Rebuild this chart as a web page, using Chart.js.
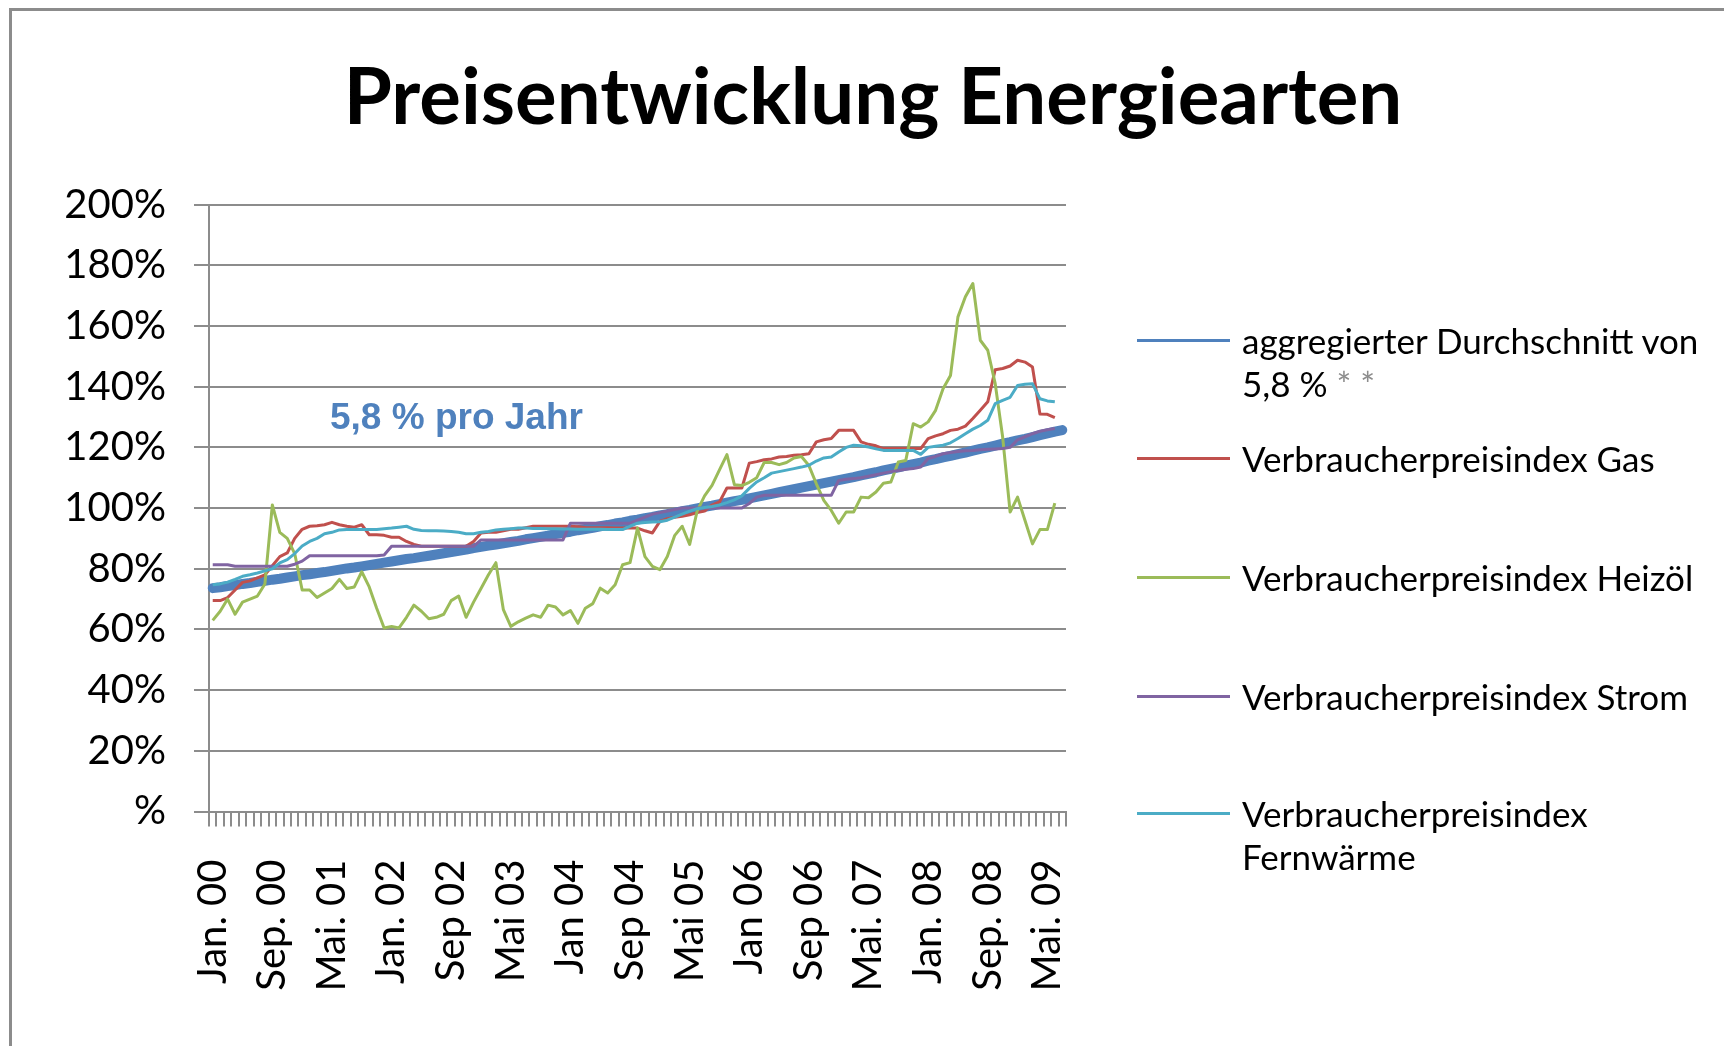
<!DOCTYPE html>
<html>
<head>
<meta charset="utf-8">
<script src="https://cdn.jsdelivr.net/npm/chart.js@4.4.1/dist/chart.umd.min.js"></script>
<style>
	html, body { margin: 0; padding: 0; background: #fff; }
	#wrap { position: relative; width: 1724px; height: 1046px; overflow: hidden; }
	#frame { position: absolute; left: 9px; top: 8px; width: 1730px; height: 1050px; border-left: 3px solid #8c8c8c; border-top: 3px solid #8c8c8c; }
	#chart { position: absolute; left: 0; top: 0; }
	#note { position: absolute; left: 330px; top: 398px; font: bold 37px "Liberation Sans", Arial, sans-serif; line-height: 37px; color: #4f81bd; white-space: nowrap; }
	.leg { position: absolute; left: 1137px; }
	.leg .sw { position: absolute; left: 0; top: 20px; width: 93px; height: 3px; }
	.leg .tx { position: absolute; left: 105px; top: 0; width: 470px; font: 35px Lato, sans-serif; line-height: 43px; color: #000; }
	.leg .ast { color: #8c8c8c; }
</style>
</head>
<body>
<div id="wrap">
	<div id="frame"></div>
	<canvas id="chart" width="1724" height="1046"></canvas>
	<div id="note">5,8 % pro Jahr</div>
	<div id="legend"></div>
</div>
<script>
// x axis: monthly categories Jan 2000 .. Jul 2009, a label every 8 months
const tickLabels = ['Jan. 00', 'Sep. 00', 'Mai. 01', 'Jan. 02', 'Sep 02', 'Mai 03', 'Jan 04', 'Sep 04',
	'Mai 05', 'Jan 06', 'Sep 06', 'Mai. 07', 'Jan. 08', 'Sep. 08', 'Mai. 09'];
const monthCount = 115;
const labelStep = 8;

const seriesNames = [
	'aggregierter Durchschnitt von 5,8 % **',
	'Verbraucherpreisindex Gas',
	'Verbraucherpreisindex Heizöl',
	'Verbraucherpreisindex Strom',
	'Verbraucherpreisindex Fernwärme'
];

// values in %
const durchschnitt = [
	73.6, 73.9, 74.3, 74.6, 75.0, 75.3, 75.7, 76.0, 76.4, 76.7, 77.1, 77.5,
	77.9, 78.2, 78.6, 78.9, 79.3, 79.7, 80.1, 80.4, 80.8, 81.2, 81.6, 82.0,
	82.4, 82.8, 83.2, 83.5, 83.9, 84.3, 84.7, 85.1, 85.5, 85.9, 86.3, 86.8,
	87.2, 87.6, 88.0, 88.4, 88.8, 89.2, 89.7, 90.1, 90.5, 90.9, 91.4, 91.8,
	92.2, 92.7, 93.1, 93.5, 94.0, 94.4, 94.9, 95.3, 95.8, 96.2, 96.7, 97.1,
	97.6, 98.0, 98.5, 99.0, 99.4, 99.9, 100.4, 100.8, 101.3, 101.8, 102.3, 102.7,
	103.2, 103.7, 104.2, 104.7, 105.2, 105.7, 106.2, 106.7, 107.2, 107.7, 108.2, 108.7,
	109.2, 109.7, 110.2, 110.8, 111.3, 111.8, 112.4, 112.9, 113.4, 114.0, 114.5, 115.0,
	115.6, 116.1, 116.7, 117.2, 117.8, 118.3, 118.9, 119.5, 120.0, 120.6, 121.2, 121.7,
	122.3, 122.8, 123.4, 124.0, 124.6, 125.2, 125.7
];
const gas = [
	69.5, 69.5, 70.5, 73, 75.5, 76, 77, 78, 81, 84, 85.2, 90,
	93, 94, 94.2, 94.5, 95.3, 94.5, 94, 93.7, 94.5, 91.2, 91.2, 91,
	90.4, 90.4, 89, 88, 87.4, 87.4, 87.4, 87.4, 87.4, 87.4, 87.4, 89,
	91.8, 92, 92, 92.5, 93, 93, 93.5, 94, 94, 94, 94, 94,
	94, 93.8, 93.6, 93.5, 93.5, 93.5, 93.4, 93.4, 93.4, 93.4, 92.5, 91.8,
	95.6, 96.5, 97, 97.3, 97.8, 98.5, 99, 101, 102, 106.6, 106.6, 106.6,
	114.8, 115.3, 115.9, 116.2, 116.8, 117, 117.4, 117.6, 117.9, 121.8, 122.5, 122.9,
	125.6, 125.6, 125.6, 121.8, 121, 120.5, 119.6, 119.6, 119.6, 119.6, 119.6, 119.6,
	122.9, 123.8, 124.5, 125.6, 126, 127, 129.5, 132.2, 135, 145.6, 146, 146.8,
	148.7, 148.1, 146.5, 131, 130.9, 129.8
];
const heizoel = [
	63, 66, 70, 65, 69, 70, 71, 75, 101, 92, 90, 85,
	73, 73, 70.5, 72, 73.5, 76.5, 73.5, 74, 79, 74, 67, 60.5,
	61, 60.5, 64, 68, 66, 63.5, 64, 65, 69.5, 71, 64, 69,
	73.5, 78, 82, 66.5, 61, 62.5, 63.7, 64.8, 64, 68, 67.4, 64.8,
	66.2, 62, 67, 68.5, 73.6, 72, 74.7, 81.3, 82, 93.4, 84, 80.8,
	79.7, 84, 91, 94, 88, 99, 104, 107.5, 112.6, 117.6, 107.7, 107.4,
	108.5, 110, 115, 115, 114.3, 115, 116.5, 117, 114, 108, 102.5, 99.2,
	95, 98.7, 98.7, 103.6, 103.4, 105.3, 108.2, 108.6, 115.2, 115.7, 127.8, 126.7,
	128.4, 132.2, 139.3, 143.7, 163, 169.6, 174, 155.3, 152, 141, 123.4, 98.7,
	103.6, 95.9, 88.2, 92.9, 92.9, 101.6
];
const strom = [
	81.3, 81.3, 81.3, 80.8, 80.8, 80.8, 80.8, 80.8, 80.8, 80.8, 80.8, 81.5,
	82.5, 84.3, 84.3, 84.3, 84.3, 84.3, 84.3, 84.3, 84.3, 84.3, 84.3, 84.5,
	87.4, 87.4, 87.4, 87.4, 87.4, 87.4, 87.4, 87.4, 87.4, 87.4, 87.4, 87.4,
	89.5, 89.5, 89.5, 89.5, 89.5, 89.5, 89.5, 89.5, 89.5, 89.5, 89.5, 89.5,
	95, 95, 95, 95, 95, 95, 95, 95, 95, 96, 97, 98,
	98.5, 99, 99.5, 100, 100, 100, 100, 100, 100, 100, 100, 100,
	101.5, 103.6, 104.2, 104.2, 104.2, 104.2, 104.2, 104.2, 104.2, 104.2, 104.2, 104.2,
	109.1, 109.5, 109.7, 110, 110.5, 111, 111.5, 112, 112.4, 112.8, 113, 113.5,
	116.3, 117, 117.9, 118.3, 118.6, 118.9, 119, 119.2, 119.4, 119.5, 119.6, 120,
	122.5, 123.5, 124.5, 125.3, 125.8, 126.2
];
const fernwaerme = [
	74.7, 75, 75.6, 76.5, 77.5, 78, 78.6, 79.3, 80, 81.9, 83, 85,
	87.5, 89, 90, 91.5, 92, 92.8, 92.9, 92.9, 92.9, 92.9, 92.9, 93.2,
	93.4, 93.7, 94, 93, 92.6, 92.5, 92.5, 92.4, 92.3, 92, 91.5, 91.5,
	92, 92.3, 92.8, 93, 93.2, 93.4, 93.4, 93.3, 93.3, 93.2, 93.2, 93.1,
	93.1, 93, 93, 93, 93, 92.9, 92.9, 92.9, 94, 95, 95.2, 95.4,
	95.5, 96, 97, 98, 99, 99.8, 100.2, 100.5, 101, 101.8, 102.7, 104,
	106.5, 108.6, 110, 111.5, 112, 112.5, 113, 113.5, 114.1, 115.5, 116.5, 116.8,
	118.5, 120, 120.7, 120.5, 120.1, 119.5, 119, 119, 119, 119, 119, 117.7,
	120, 120.4, 120.7, 121.5, 122.9, 124.5, 126, 127.2, 128.9, 134.4, 135.5, 136.5,
	140.4, 140.8, 141, 136, 135.3, 135
];

const seriesColors = ['#4f81bd', '#c0504d', '#9bbb59', '#8064a2', '#4bacc6'];
const seriesWidths = [10, 3, 3, 3, 3];
const seriesValues = [durchschnitt, gas, heizoel, strom, fernwaerme];

const gridColor = '#8c8c8c';

let categories = [];
for(let i = 0; i < monthCount; ++i) {
	categories.push(i % labelStep === 0 ? tickLabels[i / labelStep] : '');
}

let datasets = [];
for(let s = 0; s < seriesValues.length; ++s) {
	datasets.push({
		label: seriesNames[s],
		data: seriesValues[s],
		borderColor: seriesColors[s],
		backgroundColor: seriesColors[s],
		borderWidth: seriesWidths[s],
		borderCapStyle: s === 0 ? 'round' : 'butt',
		borderJoinStyle: 'round',
		pointRadius: 0,
		tension: 0,
		fill: false,
		order: seriesValues.length - s // the average line sits underneath
	});
}

const chart = new Chart('chart', {
	type: 'line',
	data: {
		labels: categories,
		datasets: datasets
	},
	options: {
		responsive: false,
		animation: false,
		layout: { padding: { left: 22, top: 0, right: 0, bottom: 0 } },
		plugins: {
			legend: { display: false },
			tooltip: { enabled: false },
			title: {
				display: true,
				text: 'Preisentwicklung Energiearten',
				color: '#000',
				font: { family: 'Lato', size: 78, weight: 'bold', lineHeight: 1.2 },
				padding: { top: 52, bottom: 59 }
			}
		},
		scales: {
			x: {
				type: 'category',
				offset: true,
				grid: {
					offset: true,
					drawOnChartArea: false,
					drawTicks: true,
					tickLength: 15,
					color: gridColor,
					lineWidth: 2
				},
				border: { color: gridColor, width: 2 },
				ticks: {
					autoSkip: false,
					maxRotation: 90,
					minRotation: 90,
					padding: 33,
					color: '#000',
					font: { family: 'Lato', size: 40 }
				},
				afterFit: function(scale) { scale.height = 234.5; }
			},
			y: {
				min: 0,
				max: 200,
				grid: {
					color: gridColor,
					lineWidth: 2,
					tickLength: 15
				},
				border: { color: gridColor, width: 2 },
				ticks: {
					stepSize: 20,
					padding: 28,
					color: '#000',
					font: { family: 'Lato', size: 40 },
					callback: function(value) { return value === 0 ? '%' : value + '%'; }
				},
				afterFit: function(scale) { scale.width = 187; }
			},
			// empty axis that keeps the right side free for the legend
			legendSpace: {
				position: 'right',
				min: 0,
				max: 1,
				grid: { display: false },
				border: { display: false },
				ticks: { display: false },
				afterFit: function(scale) { scale.width = 658; }
			}
		}
	}
});

// legend in the Excel style, built from the datasets
const legendRows = [340.8, 458.5, 577.2, 696, 813.6];
const legendBox = document.getElementById('legend');
for(let s = 0; s < datasets.length; ++s) {
	const item = document.createElement('div');
	item.className = 'leg';
	item.style.top = (legendRows[s] - 21.5) + 'px';
	const sw = document.createElement('div');
	sw.className = 'sw';
	sw.style.background = datasets[s].borderColor;
	const tx = document.createElement('div');
	tx.className = 'tx';
	tx.innerHTML = datasets[s].label.replace('**', '<span class="ast">* *</span>');
	item.appendChild(sw);
	item.appendChild(tx);
	legendBox.appendChild(item);
}
</script>
</body>
</html>
